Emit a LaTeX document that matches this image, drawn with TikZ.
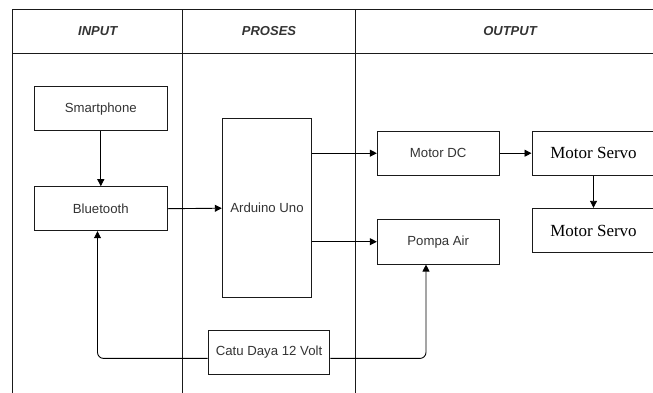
\documentclass[tikz,border=0pt]{standalone}
\usepackage{fontspec}
\setmainfont{Liberation Sans}
\newfontfamily\timesf{Liberation Serif}
\usetikzlibrary{arrows.meta}
\definecolor{txt}{HTML}{333333}
\definecolor{ln}{HTML}{1A1A1A}
\begin{document}
\begin{tikzpicture}[x=1pt,y=-1pt,
  box/.style={draw=ln,line width=1pt,rectangle,inner sep=0pt,text=txt,font=\fontsize{13.2}{15}\selectfont},
  servobox/.style={box,font=\timesf\fontsize{17}{19}\selectfont,text=black},
  hdr/.style={text=txt,font=\bfseries\itshape\fontsize{13}{15}\selectfont},
  arr/.style={draw=black,line width=0.9pt,-{Triangle[length=7pt,width=7pt]}},
  frame/.style={draw=ln,line width=1pt}]
\useasboundingbox (0,0) rectangle (653,392);
\begin{scope}
\clip (0,0) rectangle (653,392);
\draw[frame] (12.7,400) -- (12.7,9.3) -- (670,9.3);
\draw[frame] (12.7,53.3) -- (670,53.3);
\draw[frame] (182.7,9.3) -- (182.7,400);
\draw[frame] (355,9.3) -- (355,400);
\node[hdr] (hin) at (97.7,31.3) {INPUT};
\node[hdr] (hpr) at (269,31.3) {PROSES};
\node[hdr] (hout) at (510,31.3) {OUTPUT};

\node[box,minimum width=133pt,minimum height=44.3pt] (smart) at (100.8,108.8) {Smartphone};
\node[box,minimum width=133pt,minimum height=44pt] (blue) at (100.8,208.7) {Bluetooth};
\node[box,minimum width=89.4pt,minimum height=179pt] (ard) at (267,208.2) {Arduino Uno};
\node[box,minimum width=121.7pt,minimum height=44.3pt] (mdc) at (438.2,153.2) {Motor DC};
\node[box,minimum width=121.7pt,minimum height=44.7pt] (pompa) at (438.2,241.7) {Pompa Air};
\node[servobox,minimum width=123pt,minimum height=44.3pt] (ms1) at (593.5,153.2) {Motor Servo};
\node[servobox,minimum width=123pt,minimum height=44.4pt] (ms2) at (593.5,230.5) {Motor Servo};
\node[box,minimum width=121.7pt,minimum height=44.3pt] (catu) at (269,352.2) {Catu Daya 12 Volt};

\draw[arr] (smart.south) -- (blue.north);
\draw[arr] (blue.east) -- (ard.west);
\draw[arr] (ard.east |- mdc.west) -- (mdc.west);
\draw[arr] (mdc.east) -- (ms1.west);
\draw[arr] (ms1.south) -- (ms2.north);
\draw[arr] (ard.east |- pompa.west) -- (pompa.west);
\draw[arr,rounded corners=6pt] ([yshift=-6.2pt]catu.west) -| ([xshift=-3.3pt]blue.south);
\draw[arr,rounded corners=6pt] ([yshift=-6.2pt]catu.east) -| ([xshift=-12.2pt]pompa.south);
\end{scope}
\end{tikzpicture}
\end{document}
